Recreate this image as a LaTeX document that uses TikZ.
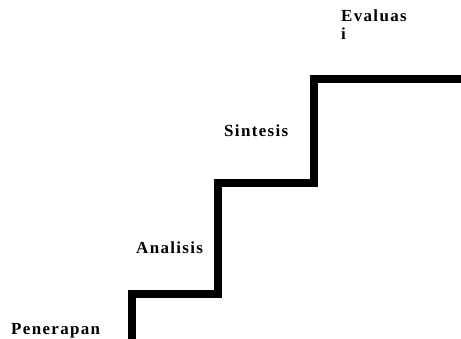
\documentclass[tikz,border=0pt]{standalone}
\usepackage{fontspec}
\setmainfont{Liberation Serif}
\newfontfamily\steplabelfont[LetterSpace=8]{Liberation Serif}
\begin{document}
\begin{tikzpicture}[x=1bp,y=-1bp,
  stair/.style={line width=8bp, line join=miter, black},
  levellabel/.style={font=\steplabelfont\bfseries\fontsize{17}{15}\selectfont, inner sep=0pt, anchor=base west}]
\useasboundingbox (0,0) rectangle (461,338);
% corners of the staircase
\coordinate (s0) at (132,342);
\coordinate (s1) at (132,294);
\coordinate (s2) at (218,294);
\coordinate (s3) at (218,183);
\coordinate (s4) at (314,183);
\coordinate (s5) at (314,79);
\coordinate (s6) at (465,79);
\draw[stair] (s0) -- (s1) -- (s2) -- (s3) -- (s4) -- (s5) -- (s6);
% level names
\node[levellabel] (penerapan) at (11,334) {Penerapan};
\node[levellabel] (analisis) at (136,253) {Analisis};
\node[levellabel] (sintesis) at (224,136) {Sintesis};
\node[levellabel, anchor=north west, align=left] (evaluasi) at (341,10) {Evaluas\\[3bp]i};
\end{tikzpicture}
\end{document}
